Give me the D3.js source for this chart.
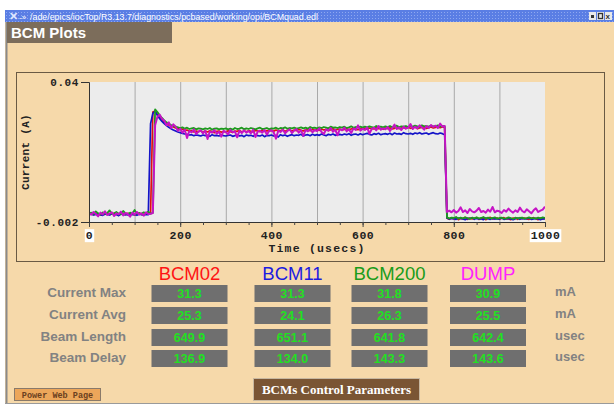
<!DOCTYPE html>
<html><head><meta charset="utf-8">
<script src="https://cdn.jsdelivr.net/npm/d3@7"></script>
<style>body{margin:0;background:#fff;overflow:hidden} svg{display:block}</style>
</head><body><svg id="c" width="614" height="406"></svg>
<script>
// time axis sampling (usec), one sample every 5 usec
const times = d3.range(0, 1001, 5);
// traces in mA, rows of 10 samples (50 usec each)
const bcm02 = [
0.3,0.5,0.2,0.6,0.4,0.1,0.5,0.3,0.7,0.2,
0.4,0.6,0.3,0.0,0.5,0.4,0.2,0.6,0.3,0.5,
0.1,0.4,0.7,0.3,0.2,0.5,0.4,0.6,31.0,31.3,
30.2,29.4,28.7,28.0,27.6,27.1,26.8,26.5,26.2,26.0,
25.8,25.9,25.5,25.6,25.2,25.4,25.0,25.3,25.1,25.4,
24.9,25.3,25.0,25.4,25.1,24.8,25.2,25.3,24.9,25.2,
25.0,25.4,25.1,24.9,25.3,25.2,25.5,25.0,25.3,25.1,
25.4,25.2,25.0,25.5,25.3,25.1,25.6,25.2,25.4,25.3,
25.5,25.2,25.6,25.3,25.4,25.7,25.2,25.5,25.6,25.3,
25.6,25.4,25.8,25.5,25.3,25.7,25.6,25.4,25.8,25.5,
25.7,25.5,25.9,25.6,25.8,25.4,25.7,26.0,25.6,25.8,
25.9,25.6,25.8,26.0,25.7,25.9,26.1,25.8,25.7,26.0,
25.9,26.1,25.8,26.2,26.0,25.9,26.3,26.0,26.1,25.8,
26.2,26.0,26.3,25.9,26.1,26.4,26.0,26.2,26.3,26.1,
26.4,26.1,26.3,26.5,26.0,26.2,26.4,26.6,26.1,26.3,
26.5,26.2,26.4,26.6,26.3,26.5,26.4,-0.9,-1.2,-0.8,
-1.1,-0.7,-1.3,-0.9,-1.0,-0.6,-1.2,-0.8,-1.1,-0.9,
-0.7,-1.2,-1.0,-0.8,-1.3,-0.9,-0.6,-1.1,-1.0,-0.8,
-1.2,-0.9,-0.7,-1.1,-1.0,-1.3,-0.8,-0.9,-1.2,-0.7,
-1.0,-0.8,-1.1,-1.2,-0.9,-0.7,-1.0,-1.3,-0.8,-1.1,
-0.9];
const bcm11 = [
0.2,0.4,0.1,0.3,0.5,0.2,0.0,0.4,0.3,0.1,
0.5,0.2,0.3,-0.1,0.4,0.2,0.3,0.1,0.5,0.2,
0.3,0.0,0.4,0.2,0.1,0.3,0.2,27.5,30.6,31.3,
30.0,29.0,28.2,27.5,26.9,26.4,26.0,25.6,25.3,25.0,
24.8,24.6,24.4,24.3,24.1,24.2,23.9,24.1,24.0,23.8,
24.1,23.9,24.0,23.7,24.2,23.9,24.0,23.8,24.1,23.9,
23.8,24.0,24.1,23.7,23.9,24.2,23.8,24.0,23.6,24.1,
23.9,24.0,23.7,24.2,23.9,23.8,24.1,23.6,24.0,23.9,
24.1,23.8,24.0,23.5,24.2,23.9,24.1,23.7,24.0,24.2,
23.9,24.1,24.0,24.3,23.8,24.1,24.2,23.9,24.3,24.0,
24.2,24.0,24.4,24.1,23.9,24.3,24.1,24.4,24.0,24.2,
24.3,24.1,24.4,24.2,24.5,24.0,24.3,24.4,24.1,24.5,
24.2,24.4,24.6,24.3,24.1,24.5,24.3,24.6,24.2,24.4,
24.5,24.3,24.6,24.2,24.7,24.4,24.5,24.3,24.8,24.5,
24.4,24.6,24.3,24.7,24.5,24.8,24.4,24.6,24.7,24.3,
24.6,24.8,24.5,24.4,24.7,24.5,24.2,-0.8,-1.1,-0.9,
-1.0,-1.2,-0.8,-0.9,-1.1,-1.3,-0.9,-1.0,-0.7,-1.2,
-0.9,-1.1,-1.0,-1.3,-0.8,-1.0,-1.2,-0.9,-1.1,-1.0,
-1.1,-0.8,-1.2,-1.0,-0.9,-1.1,-1.3,-1.0,-0.8,-1.2,
-0.9,-1.1,-1.0,-0.8,-1.2,-1.1,-0.9,-1.0,-1.3,-1.0,
-1.1];
const bcm200 = [
0.5,0.8,0.4,1.2,0.6,0.3,0.9,0.5,0.7,1.5,
0.4,0.6,1.0,0.5,0.3,1.3,0.6,0.4,0.8,0.5,
1.6,0.5,0.7,0.4,0.9,0.6,1.1,0.5,0.7,31.8,
31.0,30.0,29.2,28.5,27.9,27.5,27.1,26.8,26.6,26.4,
26.2,26.4,26.0,26.3,25.9,26.1,26.2,25.8,26.1,26.0,
25.8,26.1,25.9,26.2,25.7,26.0,26.1,25.8,26.0,25.9,
26.1,25.8,26.0,25.7,26.2,25.9,26.0,26.3,25.8,26.1,
25.9,26.2,26.0,25.8,26.1,26.3,25.9,26.0,26.2,25.8,
26.1,26.0,26.3,25.9,26.2,26.1,26.4,26.0,26.2,26.1,
26.3,26.0,26.2,26.4,26.1,26.3,26.0,26.5,26.2,26.3,
26.1,26.4,26.2,26.5,26.3,26.1,26.6,26.3,26.4,26.2,
26.5,26.3,26.6,26.2,26.4,26.7,26.3,26.5,26.4,26.6,
26.3,26.6,26.4,26.7,26.5,26.3,26.8,26.5,26.6,26.4,
26.7,26.5,26.8,26.4,26.6,26.9,26.5,26.7,26.6,26.8,
26.5,26.8,26.6,26.9,26.7,26.5,27.0,26.7,26.8,26.6,
26.9,26.7,26.8,27.0,26.6,26.8,26.7,-0.6,-0.9,-0.7,
-0.8,-0.5,-1.0,-0.7,-0.9,-0.6,-0.8,-1.1,-0.7,-0.9,
-0.6,-0.9,-0.8,-0.5,-1.0,-0.7,-0.9,-0.8,-0.6,-1.0,
-0.8,-0.7,-1.0,-0.9,-0.6,-0.8,-1.1,-0.7,-0.9,-0.8,
-0.7,-1.0,-0.8,-0.6,-0.9,-0.8,-1.0,-0.7,-0.9,-0.6,
-0.8];
const dump = [
0.6,0.2,1.0,0.4,-0.3,0.8,0.3,1.2,0.1,0.5,
0.9,-0.2,0.6,0.3,1.1,0.0,0.7,0.4,-0.4,0.8,
0.3,1.0,0.2,0.6,-0.1,0.9,0.4,0.5,0.7,27.0,
29.6,30.2,29.0,28.4,27.0,27.9,26.2,27.3,26.6,25.4,
26.0,24.8,25.7,23.2,25.3,24.9,25.8,24.4,25.1,25.5,
24.6,25.4,22.9,25.2,24.8,25.6,24.5,25.1,23.6,25.3,
25.0,24.3,25.6,24.9,25.2,23.4,25.4,24.7,25.5,24.8,
25.3,24.6,25.7,23.5,25.1,25.4,24.8,25.6,24.2,25.3,
25.5,24.9,23.0,25.4,25.0,25.7,24.6,25.3,25.8,24.7,
25.4,25.9,24.8,25.5,23.8,25.6,25.2,26.0,24.9,25.6,
25.3,26.1,25.0,24.4,25.8,25.4,26.2,25.1,25.7,24.0,
25.9,25.5,26.3,25.2,25.8,24.7,26.1,25.6,27.0,25.4,
26.0,25.6,26.4,24.5,25.9,26.3,25.5,26.8,25.7,26.1,
25.8,26.5,25.3,26.2,27.2,25.9,26.4,25.6,26.6,26.0,
26.3,27.4,25.9,26.6,26.1,27.0,26.4,25.7,26.8,26.2,
27.1,26.5,26.9,26.2,27.5,26.6,26.8,1.0,1.4,0.9,
1.6,0.8,1.3,2.4,1.0,1.5,0.7,1.9,1.2,0.9,
1.4,2.2,1.0,1.3,0.8,1.7,1.1,2.5,0.9,1.4,
1.2,0.7,1.6,1.1,2.0,1.3,0.8,1.5,1.0,2.3,
1.3,0.9,1.8,1.2,0.6,1.5,2.1,1.0,1.4,1.7,
2.6];

const xTickLabels = [0, 200, 400, 600, 800, 1000];
const xGrid = [100, 200, 300, 400, 500, 600, 700, 800, 900];
const xMinor = [0,50,100,150,200,250,300,350,400,450,500,550,600,650,700,750,800,850,900,950,1000];
const yTickValues = [-0.002, 0.04];
const yTickLabels = ["-0.002", "0.04"];

const columns = ["BCM02", "BCM11", "BCM200", "DUMP"];
const rowLabels = ["Current Max", "Current Avg", "Beam Length", "Beam Delay"];
const units = ["mA", "mA", "usec", "usec"];
const maxVals = [31.3, 31.3, 31.8, 30.9];
const avgVals = [25.3, 24.1, 26.3, 25.5];
const lengthVals = [649.9, 651.1, 641.8, 642.4];
const delayVals = [136.9, 134.0, 143.3, 143.6];

const svg = d3.select("#c");
const bg = "#f6d9aa";
const mono = "'Liberation Mono','DejaVu Sans Mono',monospace";
const sans = "'Liberation Sans',Arial,sans-serif";

// window background
svg.append("rect").attr("x",0).attr("y",0).attr("width",614).attr("height",406).attr("fill","#fff");
svg.append("rect").attr("x",5).attr("y",22).attr("width",609).attr("height",382).attr("fill",bg);
svg.append("line").attr("x1",6.5).attr("x2",6.5).attr("y1",22).attr("y2",404).attr("stroke","#8a8a8a").attr("stroke-width",2);
svg.append("line").attr("x1",5).attr("x2",614).attr("y1",403.5).attr("y2",403.5).attr("stroke","#9a9a9a");

// title bar
const defs = svg.append("defs");
const pat = defs.append("pattern").attr("id","tb").attr("width",3).attr("height",3).attr("patternUnits","userSpaceOnUse");
pat.append("rect").attr("width",3).attr("height",3).attr("fill","#5a7ee4");
pat.append("rect").attr("width",1).attr("height",1).attr("fill","#8ea8f0");
svg.append("rect").attr("x",5).attr("y",10).attr("width",609).attr("height",12).attr("fill","url(#tb)");
svg.append("text").attr("x",9).attr("y",20).attr("fill","#dfe6ff").attr("font-family",sans).attr("font-size",11).attr("font-weight","bold").text("✕");
svg.append("text").attr("x",19).attr("y",19.5).attr("fill","#fff").attr("font-family",sans).attr("font-size",8).text("-»");
svg.append("text").attr("x",30).attr("y",19.5).attr("fill","#fff").attr("font-family",sans).attr("font-size",9.5)
  .attr("textLength",288).attr("lengthAdjust","spacingAndGlyphs")
  .text("/ade/epics/iocTop/R3.13.7/diagnostics/pcbased/working/opi/BCMquad.edl");
[589, 597, 605].forEach((bx,i) => {
  svg.append("rect").attr("x",bx).attr("y",12).attr("width",7).attr("height",8).attr("fill","#e8e8e8");
  if (i===0) svg.append("rect").attr("x",bx+2).attr("y",15).attr("width",3).attr("height",3).attr("fill","#333");
  if (i===1) svg.append("rect").attr("x",bx+1.5).attr("y",13.5).attr("width",4).attr("height",5).attr("fill","none").attr("stroke","#333").attr("stroke-width",1.3);
  if (i===2) svg.append("text").attr("x",bx+0.5).attr("y",19).attr("font-size",8).attr("font-weight","bold").attr("font-family",sans).attr("fill","#333").text("x");
});

// BCM Plots label
svg.append("rect").attr("x",7).attr("y",22).attr("width",165).attr("height",21).attr("fill","#7c6d5b");
svg.append("text").attr("x",11).attr("y",38).attr("fill","#fff").attr("font-family",sans).attr("font-weight","bold").attr("font-size",15).text("BCM Plots");

// chart frame
svg.append("rect").attr("x",16.5).attr("y",72.5).attr("width",588).attr("height",189).attr("fill","none").attr("stroke","#6a5a44").attr("stroke-width",1);

// plot
const L = 89, R = 545, T = 82, B = 222;
const x = d3.scaleLinear().domain([0, 1000]).range([L, R]);
const y = d3.scaleLinear().domain([-0.002, 0.04]).range([B, T]);

svg.append("rect").attr("x",L).attr("y",T).attr("width",R-L).attr("height",B-T).attr("fill","#ececec");

// vertical grid
svg.append("g").attr("transform",`translate(0,${B})`)
  .call(d3.axisBottom(x).tickValues(xGrid).tickSize(-(B-T)).tickFormat(""))
  .call(g => { g.select(".domain").remove(); g.selectAll("line").attr("stroke","#a9a9a9"); });

// clip
defs.append("clipPath").attr("id","pc").append("rect").attr("x",L).attr("y",T-2).attr("width",R-L).attr("height",B-T+2);

const line = d3.line().x((d,i) => x(times[i])).y(d => y(d / 1000));
const series = [
  {v: bcm02, c: "#e01010", w: 1.7},
  {v: bcm11, c: "#1414c8", w: 1.7},
  {v: bcm200, c: "#1d9a1d", w: 1.8},
  {v: dump, c: "#c614c6", w: 2.0}
];
const pg = svg.append("g").attr("clip-path","url(#pc)");
series.forEach(s => {
  pg.append("path").datum(s.v).attr("d", line).attr("fill","none").attr("stroke", s.c).attr("stroke-width", s.w).attr("stroke-linejoin","round");
});

// x axis minor ticks
svg.append("g").attr("transform",`translate(0,${B})`)
  .call(d3.axisBottom(x).tickValues(xMinor).tickSize(3).tickFormat(""))
  .call(g => { g.select(".domain").attr("stroke","#333"); g.selectAll("line").attr("stroke","#444"); });
// x axis labels
const xa = svg.append("g").attr("transform",`translate(0,${B})`)
  .call(d3.axisBottom(x).tickValues(xTickLabels).tickSize(5).tickPadding(4).tickFormat(d3.format("d")));
xa.select(".domain").remove();
xa.selectAll("line").attr("stroke","#444");
xa.selectAll("text").attr("font-family",mono).attr("font-weight","bold").attr("font-size",11.5).attr("fill","#222").attr("letter-spacing",0.5);
xa.selectAll(".tick").filter(d => d === 0 || d === 1000).each(function() {
  const t = d3.select(this).select("text");
  const bb = t.node().getBBox();
  d3.select(this).insert("rect","text").attr("x",bb.x-1).attr("y",bb.y).attr("width",bb.width+2).attr("height",bb.height).attr("fill","#fff");
});

// y axis
const ya = svg.append("g").attr("transform",`translate(${L},0)`)
  .call(d3.axisLeft(y).tickValues(yTickValues).tickSize(8).tickPadding(2).tickFormat((d,i) => yTickLabels[i]));
ya.select(".domain").attr("stroke","#333");
ya.selectAll("line").attr("stroke","#333");
ya.selectAll("text").attr("font-family",mono).attr("font-weight","bold").attr("font-size",11).attr("fill","#222").attr("letter-spacing",0.6);

// axis titles
svg.append("text").attr("x",(L+R)/2).attr("y",252).attr("text-anchor","middle").attr("font-family",mono).attr("font-weight","bold").attr("font-size",11.5).attr("letter-spacing",1.2).attr("fill","#222").text("Time (usecs)");
svg.append("text").attr("transform",`translate(29,${(T+B)/2}) rotate(-90)`).attr("text-anchor","middle").attr("font-family",mono).attr("font-weight","bold").attr("font-size",11).attr("letter-spacing",0.3).attr("fill","#222").text("Current (A)");

// table
const colCenters = [189.5, 292.5, 389.5, 488];
const colColors = ["#ff1414", "#1c1ce0", "#1a9c1a", "#ff22ff"];
const boxW = 76, boxH = 17;
const rowTops = [285, 307, 329, 350];
const tableRows = [maxVals, avgVals, lengthVals, delayVals];

columns.forEach((c,i) => {
  svg.append("text").attr("x",colCenters[i]).attr("y",280).attr("text-anchor","middle").attr("font-family",sans).attr("font-size",18.5).attr("fill",colColors[i]).text(c);
});
rowLabels.forEach((r,j) => {
  svg.append("text").attr("x",126).attr("y",rowTops[j]+12).attr("text-anchor","end").attr("font-family",sans).attr("font-weight","bold").attr("font-size",13.5).attr("fill","#828282").text(r);
  svg.append("text").attr("x",555).attr("y",rowTops[j]+11).attr("font-family",sans).attr("font-weight","bold").attr("font-size",13).attr("fill","#828282").text(units[j]);
  tableRows[j].forEach((v,i) => {
    svg.append("rect").attr("x",colCenters[i]-boxW/2).attr("y",rowTops[j]).attr("width",boxW).attr("height",boxH).attr("fill","#6f6f6f");
    svg.append("text").attr("x",colCenters[i]).attr("y",rowTops[j]+13).attr("text-anchor","middle").attr("font-family",sans).attr("font-weight","bold").attr("font-size",12.5).attr("fill","#22e022").text(v.toFixed(1));
  });
});

// bottom buttons
svg.append("rect").attr("x",14.5).attr("y",388.5).attr("width",86).attr("height",12).attr("fill","#eca65a").attr("stroke","#8a7a6a");
svg.append("text").attr("x",57.5).attr("y",397.5).attr("text-anchor","middle").attr("font-family",mono).attr("font-weight","bold").attr("font-size",8.5).attr("fill","#6a4020").text("Power Web Page");
svg.append("rect").attr("x",253.5).attr("y",378.5).attr("width",166).attr("height",22).attr("fill","#7a5534").attr("stroke","#c8b8a0");
svg.append("text").attr("x",336.5).attr("y",394).attr("text-anchor","middle").attr("font-family","'Liberation Serif','DejaVu Serif',serif").attr("font-weight","bold").attr("font-size",13).attr("fill","#fff").text("BCMs Control Parameters");
</script></body></html>
